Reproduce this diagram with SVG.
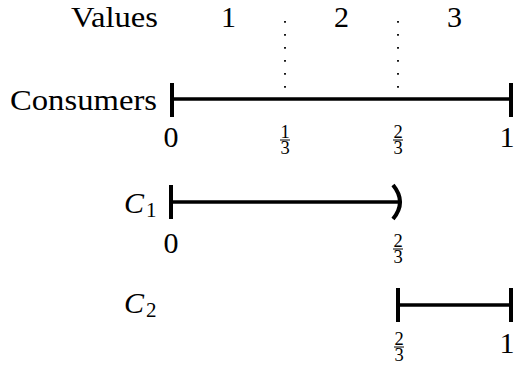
<svg xmlns="http://www.w3.org/2000/svg" width="515" height="371" viewBox="0 0 515 371">
  <style>
    text { fill: #000; font-family: Liberation Serif, DejaVu Serif, serif; }
    .lbl { font-size: 30px; }
    .it { font-style: italic; }
    .sub { font-size: 21px; }
    .fr { font-size: 18.5px; text-anchor: middle; }
    .num { font-size: 30px; text-anchor: middle; }
    .seg { stroke: #000; stroke-width: 3.5; fill: none; }
    .tick { stroke: #000; stroke-width: 4; fill: none; }
    .bar { stroke: #000; stroke-width: 1; }
    .dots { stroke: #000; stroke-width: 1.8; stroke-dasharray: 1.8 11.2; fill: none; }
  </style>
  <defs>
    <!-- stacked fraction, bar at y=0 -->
    <g id="f13">
      <line class="bar" x1="-5" y1="0" x2="5" y2="0"/>
      <text class="fr" x="0" y="-2">1</text>
      <text class="fr" x="0" y="14">3</text>
    </g>
    <g id="f23">
      <line class="bar" x1="-5" y1="0" x2="5" y2="0"/>
      <text class="fr" x="0" y="-2">2</text>
      <text class="fr" x="0" y="14">3</text>
    </g>
  </defs>

  <!-- value row -->
  <g id="values">
    <text class="lbl" x="71" y="27" textLength="87" lengthAdjust="spacingAndGlyphs">Values</text>
    <text class="num" x="228.5" y="27">1</text>
    <text class="num" x="341.5" y="27">2</text>
    <text class="num" x="454.5" y="27">3</text>
  </g>

  <g id="connectors">
    <!-- dotted separators between value regions -->
    <line class="dots" x1="285" y1="21" x2="285" y2="99"/>
    <line class="dots" x1="398" y1="21" x2="398" y2="99"/>
  </g>

  <!-- full consumer interval [0,1] -->
  <g id="consumers">
    <text class="lbl" x="10" y="110" textLength="147" lengthAdjust="spacingAndGlyphs">Consumers</text>
    <line class="seg" x1="172" y1="99" x2="511" y2="99"/>
    <line class="tick" x1="172" y1="83" x2="172" y2="117"/>
    <line class="tick" x1="511" y1="83" x2="511" y2="117"/>
    <text class="num" x="171" y="147">0</text>
    <use href="#f13" x="285" y="140"/>
    <use href="#f23" x="398" y="140"/>
    <text class="num" x="507" y="147">1</text>
  </g>

  <!-- C1 = [0, 2/3) -->
  <g id="c1">
    <text class="lbl it" x="124" y="213">C</text>
    <text class="sub" x="146" y="217">1</text>
    <line class="seg" x1="171" y1="202" x2="400" y2="202"/>
    <line class="tick" x1="171" y1="185" x2="171" y2="219"/>
    <path class="tick" d="M393,185 Q407,202 393,219"/>
    <text class="num" x="171" y="253">0</text>
    <use href="#f23" x="398" y="249"/>
  </g>

  <!-- C2 = [2/3, 1] -->
  <g id="c2">
    <text class="lbl it" x="124" y="313">C</text>
    <text class="sub" x="146" y="317">2</text>
    <line class="seg" x1="398" y1="305" x2="511" y2="305"/>
    <line class="tick" x1="398" y1="288" x2="398" y2="322"/>
    <line class="tick" x1="511" y1="288" x2="511" y2="322"/>
    <use href="#f23" x="399" y="347"/>
    <text class="num" x="507" y="353">1</text>
  </g>
</svg>
